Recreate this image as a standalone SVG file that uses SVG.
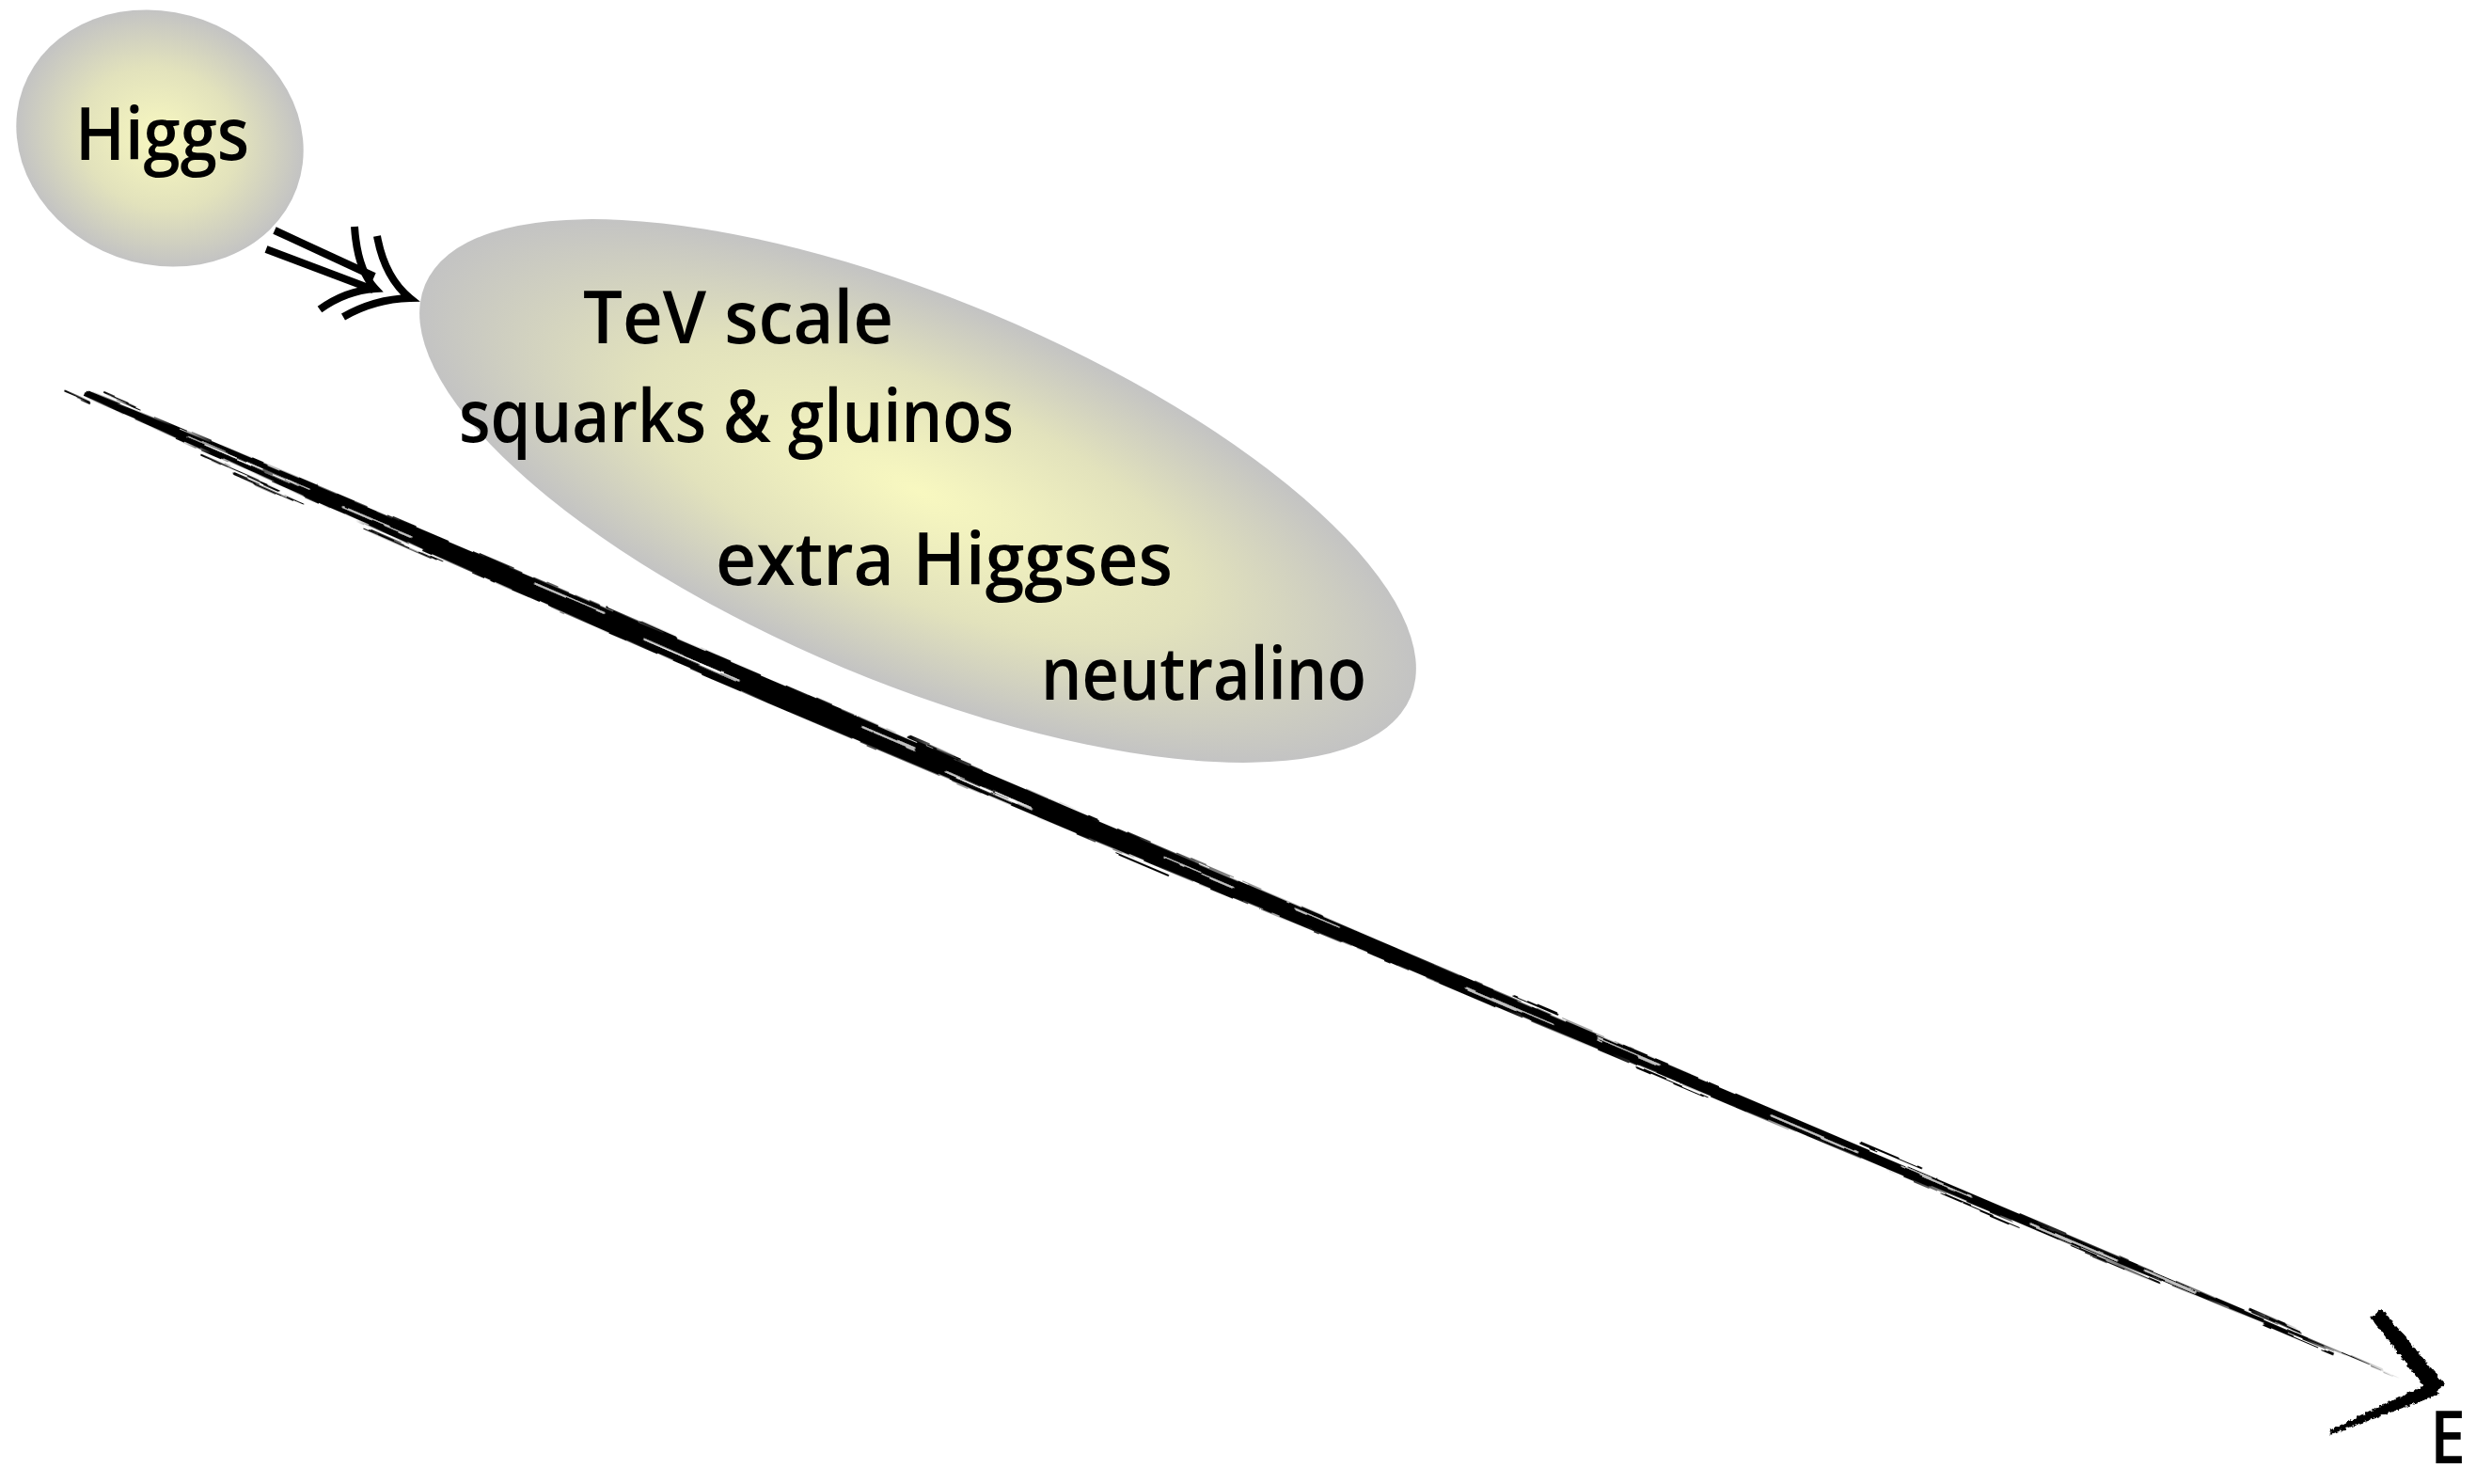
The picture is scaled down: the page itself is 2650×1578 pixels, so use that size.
<svg xmlns="http://www.w3.org/2000/svg" width="2650" height="1578" viewBox="0 0 2650 1578">
  <style>
    .lbl { font-family: "Open Sans", "Liberation Sans", sans-serif; font-size: 78px; font-weight: 600; fill: #000; }
    .bubble { stroke: none; }
    .dbl { fill: none; stroke: #000; stroke-width: 8; stroke-linejoin: miter; stroke-linecap: butt; }
    .gap { stroke: #fff; fill: none; stroke-linecap: round; }
    .fleck { stroke: #000; fill: none; stroke-linecap: round; }
  </style>
  <defs>
    <radialGradient id="glow" cx="0.5" cy="0.5" r="0.5">
      <stop offset="0" stop-color="#f8f8c0"/>
      <stop offset="0.55" stop-color="#e2e2bc"/>
      <stop offset="1" stop-color="#c3c3c3"/>
    </radialGradient>
    <!-- ragged brush edges -->
    <filter id="rough" x="-5%" y="-40%" width="110%" height="180%">
      <feTurbulence type="fractalNoise" baseFrequency="0.02 0.3" numOctaves="2" seed="7" result="n"/>
      <feDisplacementMap in="SourceGraphic" in2="n" scale="5" xChannelSelector="R" yChannelSelector="G"/>
    </filter>
    <filter id="roughHead" x="-30%" y="-30%" width="160%" height="160%">
      <feTurbulence type="fractalNoise" baseFrequency="0.25" numOctaves="2" seed="3" result="n"/>
      <feDisplacementMap in="SourceGraphic" in2="n" scale="5" xChannelSelector="R" yChannelSelector="G"/>
    </filter>
  </defs>

  <rect width="2650" height="1578" fill="#fff"/>

  <!-- energy axis: brush stroke drawn along x, rotated into place -->
  <g id="axis">
    <g transform="translate(90,418) rotate(23.04)" filter="url(#rough)">
      <path fill="#000" d="M0,-3 L150,-6 L400,-7 L800,-6 L1150,-4 L1500,-3 L1900,-2 L2200,-2 L2450,-1.5 L2675,0 L2450,4 L2200,8 L1900,11 L1500,14 L1150,18 L800,19 L400,13 L150,7 L0,3 Z"/>
      <!-- dry streaks inside the stroke -->
      <g class="gap" stroke-width="1.6">
        <path d="M120,0 L260,1"/><path d="M300,4 L380,4"/><path d="M520,-1 L600,-1"/>
        <path d="M650,8 L760,9"/><path d="M900,3 L960,3"/><path d="M1000,12 L1100,13"/>
        <path d="M1250,5 L1330,5"/><path d="M1400,1 L1450,1"/><path d="M1600,7 L1700,7"/>
        <path d="M1750,2 L1820,2"/><path d="M1950,5 L2050,5"/><path d="M2100,1 L2180,1"/>
        <path d="M2250,3 L2350,3"/><path d="M2380,1 L2440,1"/>
      </g>
      <!-- loose bristle flecks -->
      <g class="fleck" stroke-width="2">
        <path d="M20,-8 L60,-7"/><path d="M-20,6 L10,7"/><path d="M140,12 L230,14"/>
        <path d="M180,17 L260,18"/><path d="M330,16 L420,17"/><path d="M600,-8 L680,-7"/>
        <path d="M950,-7 L1010,-6"/><path d="M1200,21 L1260,21"/><path d="M1650,-5 L1700,-5"/>
        <path d="M1800,14 L1880,14"/><path d="M2050,-5 L2120,-5"/><path d="M2150,11 L2240,11"/>
        <path d="M2300,8 L2400,7"/><path d="M2500,-4 L2560,-3"/><path d="M2520,4 L2600,4"/>
      </g>
    </g>
    <g filter="url(#roughHead)" fill="#000">
      <polygon points="2521,1401 2533,1392 2600,1472 2585,1484"/>
      <polygon points="2587,1469 2593,1483 2479,1525 2477,1521"/>
    </g>
    <text class="lbl" x="2584" y="1556" font-size="72" textLength="38" lengthAdjust="spacingAndGlyphs">E</text>
  </g>

  <g id="node-higgs">
    <ellipse class="bubble" cx="170" cy="147" rx="155" ry="134" transform="rotate(20 170 147)" fill="url(#glow)"/>
    <text class="lbl" x="80" y="170" textLength="185" lengthAdjust="spacingAndGlyphs">Higgs</text>
  </g>

  <g id="node-tev">
    <ellipse class="bubble" cx="976" cy="522" rx="568" ry="204" transform="rotate(22.7 976 522)" fill="url(#glow)"/>
    <text class="lbl" x="620" y="365" textLength="330" lengthAdjust="spacingAndGlyphs">TeV scale</text>
    <text class="lbl" x="488" y="470" textLength="590" lengthAdjust="spacingAndGlyphs">squarks &amp; gluinos</text>
    <text class="lbl" x="761" y="622" textLength="486" lengthAdjust="spacingAndGlyphs">extra Higgses</text>
    <text class="lbl" x="1107" y="744" textLength="346" lengthAdjust="spacingAndGlyphs">neutralino</text>
  </g>

  <g id="connectors">
    <path class="dbl" d="M292,245 L398,294"/>
    <path class="dbl" d="M283,265 L397,308"/>
    <path class="dbl" d="M377,241 Q380,287 399,307 Q368,309 340,329"/>
    <path class="dbl" d="M401,251 Q409,295 436,317 Q398,318 365,337"/>
  </g>
</svg>
